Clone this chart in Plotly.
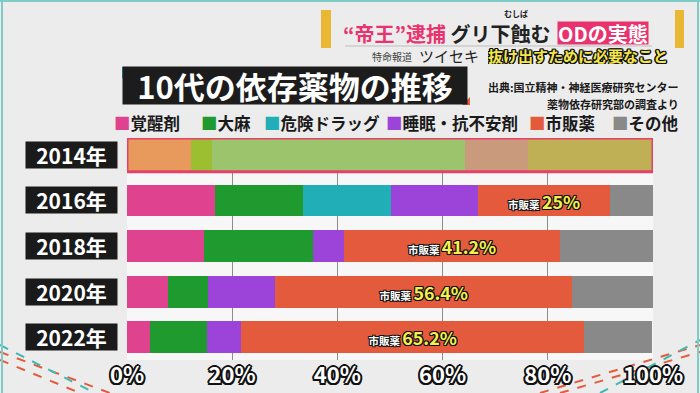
import plotly.graph_objects as go

# ---------------- data ----------------
years = ["2014年", "2016年", "2018年", "2020年", "2022年"]
series_names = ["覚醒剤", "大麻", "危険ドラッグ", "睡眠・抗不安剤", "市販薬", "その他"]
stimulants = [12.1, 16.7, 14.7, 7.7, 4.3]
cannabis = [4.0, 16.7, 20.6, 7.7, 10.9]
dangerous_drugs = [48.1, 16.7, 0, 0, 0]
sleeping_pills = [12.0, 16.7, 5.9, 12.8, 6.5]
otc_drugs = [0, 25.0, 41.2, 56.4, 65.2]
others = [23.8, 8.3, 17.6, 15.4, 13.0]
x_ticks = [0, 20, 40, 60, 80, 100]
x_tick_labels = ["0%", "20%", "40%", "60%", "80%", "100%"]

values = [stimulants, cannabis, dangerous_drugs, sleeping_pills, otc_drugs, others]
colors = ["#DF438F", "#1E9A2F", "#22AEB7", "#9C44D9", "#E35B3C", "#898989"]
hl_colors = ["#E89A5C", "#9BBF30", "#9CC46C", "#C99A7C", "#E0A050", "#BFAF55"]

FONT = "Noto Sans CJK JP"
OUT2 = ("2px 0 0 #111, -2px 0 0 #111, 0 2px 0 #111, 0 -2px 0 #111, "
        "1.5px 1.5px 0 #111, -1.5px 1.5px 0 #111, 1.5px -1.5px 0 #111, -1.5px -1.5px 0 #111")
OUT1 = ("1px 0 0 #111, -1px 0 0 #111, 0 1px 0 #111, 0 -1px 0 #111, "
        "1px 1px 0 #111, -1px 1px 0 #111, 1px -1px 0 #111, -1px -1px 0 #111")
OUT15 = ("1.5px 0 0 #111, -1.5px 0 0 #111, 0 1.5px 0 #111, 0 -1.5px 0 #111, "
         "1px 1px 0 #111, -1px 1px 0 #111, 1px -1px 0 #111, -1px -1px 0 #111")

# pixel helpers (layout only)
L, R, T, B = 127, 653, 138, 360
def px(xp):
    return (xp - L) / (R - L)
def py(yp):
    return (B - yp) / (B - T)

fig = go.Figure()
for name, vals, c, hc in zip(series_names, values, colors, hl_colors):
    mcolors = [hc if y == "2014年" else c for y in years]
    text = None
    if name == "市販薬":
        text = [("市販薬 <span style='font-size:22px;color:#F4F04E'>%g%%</span>" % v) if v > 0 and y != "2014年" else ""
                for v, y in zip(vals, years)]
    fig.add_trace(go.Bar(
        x=vals, y=years, orientation="h", name=name,
        marker=dict(color=mcolors, line=dict(width=0)),
        text=text, textposition="inside" if text else None,
        insidetextanchor="middle", textangle=0,
        insidetextfont=dict(family=FONT, size=13, color="white", weight="bold", shadow=OUT1),
        showlegend=False, hoverinfo="skip",
    ))

shapes = []
annotations = []

# 2014 highlight border
shapes.append(dict(type="rect", xref="x", yref="y", x0=0, x1=100, y0=-0.37, y1=0.37,
                   line=dict(color="#E5416A", width=3), layer="above"))

# year labels
for y in years:
    annotations.append(dict(xref="paper", yref="y", x=px(118), y=y, xanchor="right", yanchor="middle",
                            text=y, showarrow=False, bgcolor="#1A1A1A", width=89, height=24,
                            font=dict(family=FONT, size=21, color="white", weight="bold")))

# legend (manual)
leg_x = [112, 199, 262, 384, 527, 610]
for name, c, lx in zip(series_names, colors, leg_x):
    annotations.append(dict(xref="paper", yref="paper", x=px(lx), y=py(123), xanchor="left", yanchor="middle",
                            text="<span style='color:%s'>■</span>%s" % (c, name), showarrow=False,
                            font=dict(family=FONT, size=16.5, color="#1A1A1A", weight="bold")))

# title box
annotations.append(dict(xref="paper", yref="paper", x=px(122), y=py(86), xanchor="left", yanchor="middle",
                        text="10代の依存薬物の推移", showarrow=False, bgcolor="#1C1C1C", width=342, height=35,
                        font=dict(family=FONT, size=31, color="white", weight="bold")))
shapes.append(dict(type="path", xref="paper", yref="paper",
                   path="M %f,%f L %f,%f L %f,%f Z" % (px(122), py(67), px(132), py(67), px(122), py(79)),
                   fillcolor="#25B3B0", line=dict(width=0)))
shapes.append(dict(type="path", xref="paper", yref="paper",
                   path="M %f,%f L %f,%f L %f,%f Z" % (px(470), py(105), px(462), py(105), px(470), py(97)),
                   fillcolor="#E35B3C", line=dict(width=0)))

# source
annotations.append(dict(xref="paper", yref="paper", x=px(681), y=py(87), xanchor="right", yanchor="middle",
                        text="出典:国立精神・神経医療研究センター", showarrow=False, height=13,
                        font=dict(family=FONT, size=11, color="#1A1A1A", weight="bold")))
annotations.append(dict(xref="paper", yref="paper", x=px(681), y=py(103), xanchor="right", yanchor="middle",
                        text="薬物依存研究部の調査より", showarrow=False, height=13,
                        font=dict(family=FONT, size=11, color="#1A1A1A", weight="bold")))

# header
annotations.append(dict(xref="paper", yref="paper", x=px(553), y=py(33), xanchor="right", yanchor="middle",
                        text="<span style='color:#E8336F'>“帝王”逮捕</span> グリ下蝕む", showarrow=False, height=22,
                        font=dict(family=FONT, size=20, color="#222222", weight="bold")))
annotations.append(dict(xref="paper", yref="paper", x=px(516), y=py(14), xanchor="center", yanchor="middle",
                        text="むしば", showarrow=False, height=9,
                        font=dict(family=FONT, size=8, color="#222222", weight="bold")))
annotations.append(dict(xref="paper", yref="paper", x=px(557), y=py(33), xanchor="left", yanchor="middle",
                        text="ODの実態", showarrow=False, bgcolor="#E8336F", borderpad=0, height=22,
                        font=dict(family=FONT, size=20, color="white", weight="bold")))
annotations.append(dict(xref="paper", yref="paper", x=px(414), y=py(57), xanchor="right", yanchor="middle",
                        text="特命報道", showarrow=False, height=13,
                        font=dict(family=FONT, size=10, color="#444444")))
annotations.append(dict(xref="paper", yref="paper", x=px(417), y=py(55), xanchor="left", yanchor="middle",
                        text="ツイセキ", showarrow=False, height=17,
                        font=dict(family=FONT, size=15, color="#222222")))
annotations.append(dict(xref="paper", yref="paper", x=px(486), y=py(55), xanchor="left", yanchor="middle",
                        text="抜け出すために必要なこと", showarrow=False, height=17,
                        font=dict(family=FONT, size=15, color="#F3E64B", weight="bold", shadow=OUT15)))

# header decorations
for x0, x1 in [(321, 331), (675, 684)]:
    shapes.append(dict(type="rect", xref="paper", yref="paper", x0=px(x0), x1=px(x1), y0=py(48), y1=py(10),
                       fillcolor="#E9B732", line=dict(width=0)))
shapes.append(dict(type="line", xref="paper", yref="paper", x0=px(345), x1=px(652), y0=py(46), y1=py(46),
                   line=dict(color="#BDBDBD", width=1)))

# frame lines
shapes.append(dict(type="line", xref="paper", yref="paper", x0=px(0), x1=px(700), y0=py(1), y1=py(1),
                   line=dict(color="#7FCBC6", width=2)))
shapes.append(dict(type="line", xref="paper", yref="paper", x0=px(2), x1=px(2), y0=py(0), y1=py(393),
                   line=dict(color="#7FCBC6", width=2)))
shapes.append(dict(type="line", xref="paper", yref="paper", x0=px(698), x1=px(698), y0=py(0), y1=py(393),
                   line=dict(color="#7FCBC6", width=2)))
# bottom dashed decorations
for (xa, ya, xb, yb, c) in [(0, 352, 110, 393, "#E35B3C"), (0, 345, 95, 393, "#3FB8B4"), (0, 360, 80, 393, "#E35B3C"),
                            (540, 393, 700, 345, "#E35B3C"), (560, 393, 700, 352, "#E35B3C"), (600, 393, 700, 340, "#3FB8B4")]:
    shapes.append(dict(type="line", xref="paper", yref="paper", x0=px(xa), x1=px(xb), y0=py(ya), y1=py(yb),
                       line=dict(color=c, width=2, dash="dash"), layer="below"))

fig.update_layout(
    width=700, height=393,
    margin=dict(l=L, r=700 - R, t=T, b=393 - B, autoexpand=False),
    paper_bgcolor="#ECECEC", plot_bgcolor="#F7F7F7",
    barmode="stack", bargap=0.3,
    shapes=shapes, annotations=annotations,
    xaxis=dict(range=[0, 100], tickvals=x_ticks, ticktext=x_tick_labels, showgrid=True,
               gridcolor="#8C8C8C", gridwidth=1, zeroline=False, ticks="", fixedrange=True,
               tickfont=dict(family=FONT, size=22, color="white", weight="bold", shadow=OUT2)),
    yaxis=dict(type="category", categoryarray=years, range=[4.5, -0.37], showticklabels=False,
               showgrid=False, zeroline=False, ticks="", fixedrange=True),
)

fig.write_html("out.html", config={"displayModeBar": False},
               post_script="document.body.style.margin='0px';document.body.style.overflow='hidden';")
